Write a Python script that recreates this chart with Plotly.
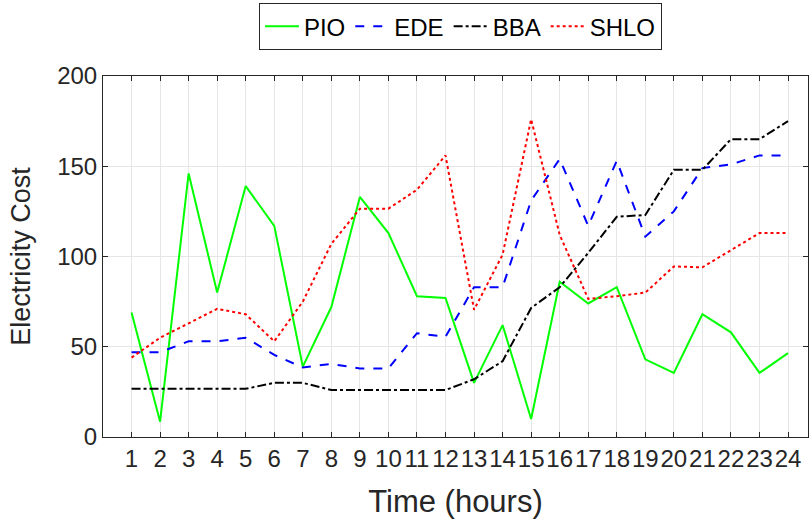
import plotly.graph_objects as go

hours = list(range(1, 25))
tick_labels = [str(h) for h in hours]
pio = [69, 8.5, 146, 80, 139, 117, 39, 72, 133, 113, 78, 77,
       30, 62, 10, 86, 74, 83, 43, 35.5, 68, 58, 35.5, 46.5]
ede = [47, 47, 53, 53, 55, 45.5, 38.5, 40.5, 38, 38, 57.5, 55.5,
       83, 83, 131, 154, 117, 153, 111, 125, 149, 151, 156, 156]
bba = [26.7, 26.7, 26.7, 26.7, 26.7, 30, 30, 26, 26, 26, 26, 26,
       32, 42, 71.5, 83, 102, 122, 123, 148, 148, 165, 165, 175]
shlo = [44, 55, 63, 71, 68, 53, 75, 107, 126.5, 126.5, 137, 156,
        70.5, 101, 176, 112, 76.5, 78, 80, 94.5, 94, 103.5, 113, 113]

series = [
    ("PIO", pio, "#00ff00", "solid"),
    ("EDE", ede, "#0000ff", "dash"),
    ("BBA", bba, "#000000", "dashdot"),
    ("SHLO", shlo, "#ff0000", "dot"),
]

fig = go.Figure()
for name, vals, color, dash in series:
    fig.add_trace(go.Scatter(x=hours, y=vals, name=name, mode="lines",
                             line=dict(color=color, width=2, dash=dash)))

font_family = "Liberation Sans, Arial, sans-serif"
axis_common = dict(
    showline=True, linecolor="#262626", linewidth=1, mirror="ticks",
    ticks="inside", ticklen=5, tickcolor="#262626",
    showgrid=True, gridcolor="#e6e6e6", gridwidth=1, zeroline=False,
    automargin=False,
    tickfont=dict(family=font_family, size=24, color="#262626"),
)

fig.update_layout(
    width=810, height=525,
    margin=dict(l=103, r=2, t=76, b=88),
    paper_bgcolor="white", plot_bgcolor="white",
    font=dict(family=font_family, color="#262626"),
    xaxis=dict(axis_common, range=[0, 24.7], tickmode="array",
               tickvals=hours, ticktext=tick_labels, tickangle=0,
               title=dict(text="Time (hours)", font=dict(size=31), standoff=19)),
    yaxis=dict(axis_common, range=[0, 200], tickvals=[0, 50, 100, 150, 200],
               title=dict(text="Electricity Cost", font=dict(size=27), standoff=18)),
    legend=dict(orientation="h", x=0.507, xanchor="center", y=0.994, yanchor="top",
                yref="container", bordercolor="#262626", borderwidth=1,
                bgcolor="white", font=dict(size=24, color="#000000"),
                itemwidth=34, tracegroupgap=0),
    showlegend=True,
)

fig.write_html("out.html", config={"displayModeBar": False},
               post_script="document.body.style.margin='0';document.body.style.overflow='hidden';")
